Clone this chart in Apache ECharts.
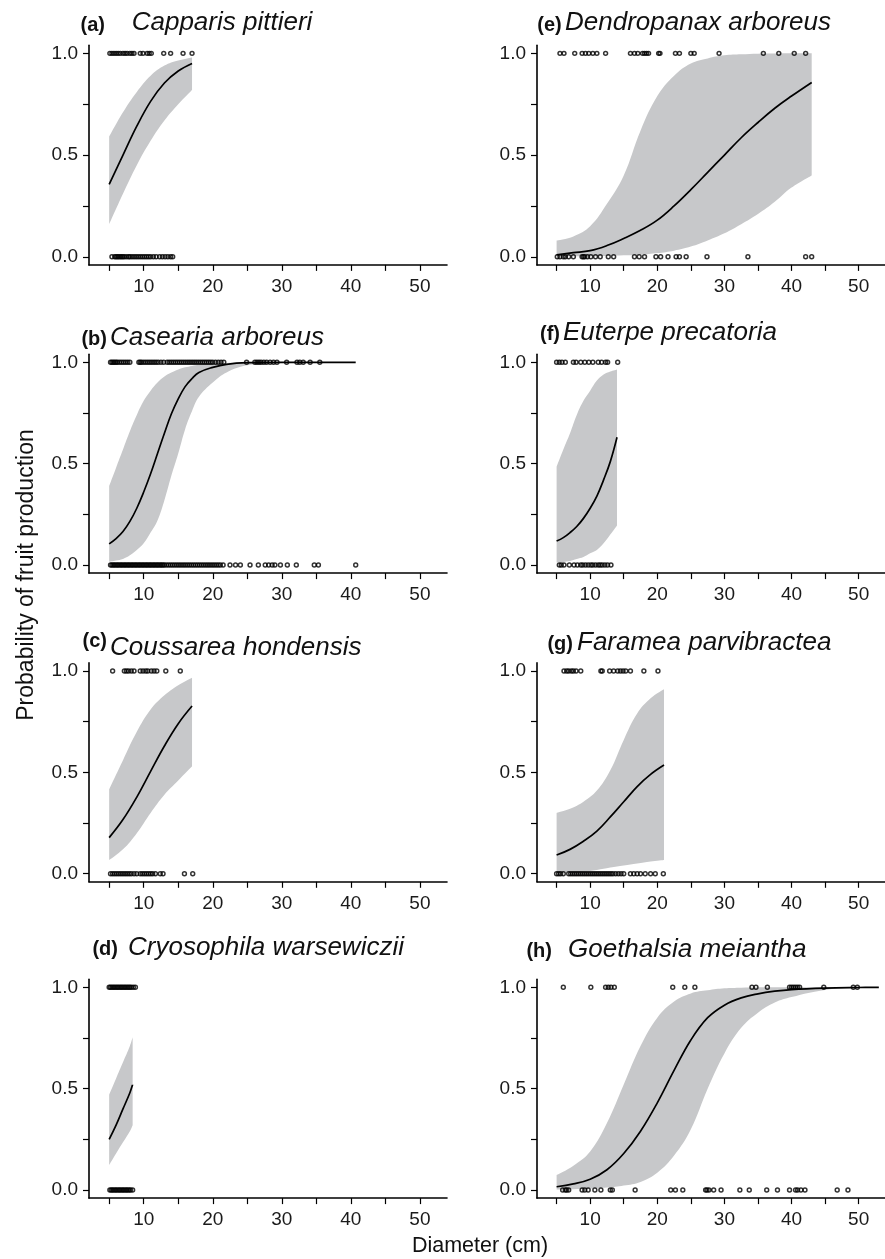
<!DOCTYPE html>
<html><head><meta charset="utf-8">
<script src="https://cdn.jsdelivr.net/npm/echarts@6/dist/echarts.min.js"></script>
<style>html,body{margin:0;padding:0;background:#fff}#c{width:885px;height:1259px}</style>
</head><body><div id="c"></div>
<script>
// ---- tick values ----
const xTicks = [5, 10, 15, 20, 25, 30, 35, 40, 45, 50];
const xLabels = [10, 20, 30, 40, 50];
const yTicks = [0, 0.25, 0.5, 0.75, 1];
const yLabels = [0, 0.5, 1];

// ---- (a) Capparis pittieri ----
const aX   = [5, 7, 9, 11, 13, 15, 17];
const aFit = [0.356, 0.50, 0.642, 0.764, 0.854, 0.913, 0.95];
const aUp  = [0.59, 0.71, 0.81, 0.89, 0.94, 0.965, 0.98];
const aLo  = [0.16, 0.31, 0.45, 0.57, 0.67, 0.75, 0.82];
const aPts1 = [5.1, 5.4, 5.7, 6.0, 6.3, 6.6, 7.0, 7.3, 7.6, 8.0, 8.3, 8.6, 9.5, 9.9, 10.5, 10.8, 11.1, 12.9, 13.9, 15.7, 17.0];
const aPts0 = [5.4, 5.8, 6.0, 6.2, 6.4, 6.6, 6.8, 7.0, 7.2, 7.5, 7.8, 8.0, 8.3, 8.6, 8.9, 9.2, 9.5, 9.8, 10.1, 10.4, 10.7, 11.0, 11.4, 11.8, 12.3, 12.7, 13.1, 13.5, 13.9, 14.2];

// ---- (b) Casearia arboreus ----
const bX   = [5, 6, 7, 8, 9, 10, 11, 12, 13, 14, 15, 16, 17, 18, 20, 22, 25, 30, 35, 40.7];
const bFit = [0.104, 0.13, 0.165, 0.215, 0.28, 0.36, 0.45, 0.55, 0.65, 0.745, 0.82, 0.88, 0.92, 0.95, 0.975, 0.99, 0.998, 1, 1, 1];
const bUp  = [0.39, 0.48, 0.57, 0.66, 0.74, 0.81, 0.86, 0.90, 0.93, 0.95, 0.965, 0.975, 0.982, 0.988, 0.994, 0.997, 1, 1, 1, 1];
const bLo  = [0.016, 0.022, 0.03, 0.048, 0.074, 0.107, 0.16, 0.22, 0.32, 0.44, 0.55, 0.67, 0.76, 0.83, 0.90, 0.95, 0.985, 0.998, 1, 1];
const bPts1 = [5.2, 5.4, 5.6, 5.8, 6.0, 6.2, 6.5, 6.8, 7.1, 7.4, 7.7, 8.0, 9.3, 9.5, 9.7, 10.0, 10.3, 10.6, 10.9, 11.2, 11.5, 11.8, 12.1, 12.5, 12.9,
  13.4, 13.7, 14.0, 14.3, 14.6, 14.9, 15.2, 15.5, 15.8, 16.1, 16.4, 16.7, 17.0, 17.3, 17.6, 17.9, 18.2, 18.5, 18.8, 19.1, 19.4, 19.7, 20.0, 20.4, 20.8, 21.2, 21.6,
  24.9, 26.1, 26.4, 26.7, 27.0, 27.4, 27.8, 28.3, 28.8, 29.3, 30.7, 32.2, 32.6, 33.1, 34.1, 35.5];
const bPts0 = [5.2, 5.4, 5.6, 5.8, 6.0, 6.2, 6.4, 6.6, 6.8, 7.0, 7.2, 7.4, 7.6, 7.8, 8.0, 8.2, 8.4, 8.6, 8.8, 9.0, 9.2, 9.4, 9.6, 9.8, 10.0,
  10.2, 10.4, 10.6, 10.8, 11.0, 11.2, 11.4, 11.6, 11.8, 12.0, 12.2, 12.4, 12.6, 12.8, 13.0, 13.3, 13.6, 13.9, 14.2, 14.5, 14.8, 15.1, 15.4, 15.7,
  16.0, 16.3, 16.6, 16.9, 17.2, 17.5, 17.8, 18.1, 18.4, 18.7, 19.0, 19.3, 19.6, 19.9, 20.2, 20.5, 20.8, 21.1, 21.5,
  22.5, 23.3, 24.0, 25.4, 26.6, 27.6, 28.1, 28.6, 29.0, 29.8, 30.8, 32.1, 34.7, 35.3, 40.7];

// ---- (c) Coussarea hondensis ----
const cX   = [5, 7, 9, 11, 13, 15, 17];
const cFit = [0.178, 0.267, 0.378, 0.505, 0.63, 0.74, 0.827];
const cUp  = [0.416, 0.56, 0.70, 0.81, 0.88, 0.93, 0.967];
const cLo  = [0.067, 0.12, 0.20, 0.30, 0.39, 0.46, 0.53];
const cPts1 = [5.5, 7.2, 7.5, 7.8, 8.2, 8.6, 9.5, 9.9, 10.3, 10.6, 11.1, 11.5, 11.9, 13.2, 15.3];
const cPts0 = [5.2, 5.5, 5.8, 6.1, 6.4, 6.7, 7.0, 7.3, 7.6, 7.9, 8.2, 8.6, 9.0, 9.5, 9.8, 10.1, 10.4, 10.7, 11.0, 11.3, 11.7, 12.4, 12.8, 15.9, 17.1];

// ---- (d) Cryosophila warsewiczii ----
const dX   = [5, 6, 7, 8, 8.4];
const dFit = [0.25, 0.32, 0.40, 0.48, 0.52];
const dUp  = [0.47, 0.55, 0.63, 0.71, 0.753];
const dLo  = [0.123, 0.18, 0.235, 0.29, 0.32];
const dPts1 = [5.0, 5.2, 5.4, 5.6, 5.8, 6.0, 6.2, 6.4, 6.6, 6.8, 7.0, 7.2, 7.4, 7.6, 7.8, 8.0, 8.2, 8.5, 8.8];
const dPts0 = [5.1, 5.3, 5.5, 5.7, 5.9, 6.1, 6.3, 6.5, 6.7, 6.9, 7.1, 7.3, 7.5, 7.7, 7.9, 8.1, 8.4];

// ---- (e) Dendropanax arboreus ----
const eX   = [5, 7.5, 10, 12.5, 15, 17.5, 20, 22.5, 25, 27.5, 30, 32.5, 35, 37.5, 40, 43];
const eFit = [0.01, 0.02, 0.03, 0.055, 0.09, 0.13, 0.18, 0.25, 0.33, 0.415, 0.50, 0.585, 0.66, 0.73, 0.79, 0.857];
const eUp  = [0.08, 0.10, 0.15, 0.26, 0.40, 0.62, 0.79, 0.89, 0.95, 0.975, 0.99, 0.995, 0.998, 0.999, 1, 1];
const eLo  = [0.002, 0.002, 0.003, 0.004, 0.007, 0.01, 0.018, 0.03, 0.05, 0.08, 0.115, 0.16, 0.21, 0.27, 0.34, 0.40];
const ePts1 = [5.5, 6.1, 7.7, 8.8, 9.3, 9.8, 10.4, 11.0, 12.3, 16.0, 16.6, 17.1, 17.8, 18.1, 18.4, 18.7, 20.2, 20.4, 22.7, 23.3, 25.0, 25.5, 29.2, 35.8, 38.1, 40.4, 42.1];
const ePts0 = [5.1, 5.5, 6.0, 6.3, 6.8, 7.5, 8.8, 9.0, 9.2, 9.6, 10.1, 10.8, 11.5, 12.7, 13.5, 16.6, 17.3, 18.1, 19.8, 20.5, 21.6, 22.8, 23.3, 24.3, 27.4, 33.5, 42.1, 43.0];

// ---- (f) Euterpe precatoria ----
const fX   = [5, 6, 7, 8, 9, 10, 11, 12, 13, 14];
const fFit = [0.118, 0.135, 0.16, 0.19, 0.23, 0.28, 0.34, 0.42, 0.51, 0.63];
const fUp  = [0.485, 0.57, 0.65, 0.74, 0.81, 0.86, 0.91, 0.94, 0.955, 0.965];
const fLo  = [0.012, 0.015, 0.02, 0.03, 0.04, 0.058, 0.074, 0.107, 0.15, 0.195];
const fPts1 = [5.0, 5.4, 5.8, 6.3, 7.5, 7.9, 8.6, 9.2, 9.8, 10.4, 11.2, 11.7, 12.3, 12.6, 14.1];
const fPts0 = [5.4, 5.7, 6.1, 6.9, 7.6, 8.1, 8.6, 8.9, 9.3, 9.7, 10.1, 10.4, 10.8, 11.2, 11.5, 11.8, 12.2, 12.6, 13.1];

// ---- (g) Faramea parvibractea ----
const gX   = [5, 7, 9, 11, 13, 15, 17, 19, 21];
const gFit = [0.092, 0.12, 0.16, 0.21, 0.28, 0.355, 0.43, 0.49, 0.536];
const gUp  = [0.30, 0.32, 0.355, 0.41, 0.51, 0.66, 0.79, 0.865, 0.91];
const gLo  = [0.005, 0.007, 0.01, 0.018, 0.03, 0.04, 0.05, 0.06, 0.067];
const gPts1 = [6.1, 6.5, 6.8, 7.2, 7.5, 7.9, 8.6, 11.6, 11.8, 12.9, 13.5, 14.1, 14.5, 14.9, 15.3, 16.0, 18.0, 20.1];
const gPts0 = [5.0, 5.3, 5.6, 6.0, 6.8, 7.1, 7.4, 7.7, 8.0, 8.3, 8.6, 8.9, 9.2, 9.5, 9.8, 10.1, 10.4, 10.7, 11.0, 11.3, 11.6, 11.9,
  12.2, 12.5, 12.8, 13.1, 13.4, 13.8, 14.2, 14.6, 15.0, 16.0, 16.5, 17.0, 17.5, 18.2, 19.0, 19.7, 20.9];

// ---- (h) Goethalsia meiantha ----
const hX   = [5, 7.5, 10, 12.5, 15, 17.5, 20, 22.5, 25, 27.5, 30, 32.5, 35, 37.5, 40, 45, 50, 53];
const hFit = [0.016, 0.03, 0.053, 0.10, 0.18, 0.29, 0.43, 0.59, 0.74, 0.85, 0.912, 0.948, 0.968, 0.981, 0.989, 0.996, 0.999, 1];
const hUp  = [0.074, 0.12, 0.19, 0.33, 0.52, 0.71, 0.85, 0.93, 0.97, 0.985, 0.995, 0.998, 1, 1, 1, 1, 1, 1];
const hLo  = [0.002, 0.004, 0.007, 0.012, 0.022, 0.04, 0.085, 0.17, 0.30, 0.50, 0.674, 0.80, 0.875, 0.925, 0.952, 0.987, 0.996, 0.998];
const hPts1 = [6.0, 10.1, 12.3, 12.7, 13.1, 13.6, 22.3, 24.1, 25.6, 34.1, 34.7, 36.4, 39.7, 40.0, 40.3, 40.6, 40.9, 41.2, 44.8, 49.2, 49.8];
const hPts0 = [5.9, 6.3, 6.5, 6.8, 8.8, 9.2, 9.7, 10.7, 11.6, 13.0, 13.3, 16.7, 22.0, 22.7, 23.8, 27.2, 27.4, 27.7, 28.4, 29.5, 32.3, 33.7,
  36.3, 37.9, 39.7, 40.6, 40.9, 41.4, 42.0, 46.8, 48.4];

const labels  = ['(a)', '(b)', '(c)', '(d)', '(e)', '(f)', '(g)', '(h)'];
const species = ['Capparis pittieri', 'Casearia arboreus', 'Coussarea hondensis', 'Cryosophila warsewiczii',
                 'Dendropanax arboreus', 'Euterpe precatoria', 'Faramea parvibractea', 'Goethalsia meiantha'];
const xTitle = 'Diameter (cm)';
const yTitle = 'Probability of fruit production';

// ---- layout (positions only) ----
const colLeft = [89, 537];
const rowTop = [45.2, 354.2, 662.9, 979.2];
const rowH = [219.7, 218.9, 218.9, 218.9];
const titlePos = [
  {lr: 105, sx: 131.7, by: 31.5, lby: 31.5},
  {lr: 107, sx: 110, by: 346, lby: 346},
  {lr: 107, sx: 110, by: 656, lby: 648},
  {lr: 118, sx: 128, by: 956, lby: 956},
  {lr: 561.7, sx: 565, by: 31.5, lby: 31.5},
  {lr: 560, sx: 563, by: 341, lby: 341},
  {lr: 573, sx: 577, by: 651, lby: 651},
  {lr: 552, sx: 568, by: 958, lby: 958}
];

const panels = [
  [aX, aFit, aUp, aLo, aPts1, aPts0],
  [bX, bFit, bUp, bLo, bPts1, bPts0],
  [cX, cFit, cUp, cLo, cPts1, cPts0],
  [dX, dFit, dUp, dLo, dPts1, dPts0],
  [eX, eFit, eUp, eLo, ePts1, ePts0],
  [fX, fFit, fUp, fLo, fPts1, fPts0],
  [gX, gFit, gUp, gLo, gPts1, gPts0],
  [hX, hFit, hUp, hLo, hPts1, hPts0]
];

const FONT = '"Liberation Sans", Arial, Helvetica, sans-serif';
const BAND = '#c7c8ca';
const grids = [], xAxes = [], yAxes = [], series = [], graphics = [];

panels.forEach((p, i) => {
  const [X, FIT, UP, LO, P1, P0] = p;
  const col = i < 4 ? 0 : 1, row = i % 4;
  grids.push({left: colLeft[col], top: rowTop[row], width: 358, height: rowH[row]});
  xAxes.push({
    type: 'value', gridIndex: i, min: 2.08, max: 53.92, z: 10,
    axisLine: {show: true, onZero: false, lineStyle: {color: '#000', width: 1.6}},
    axisTick: {show: true, customValues: xTicks, length: 6, inside: false, lineStyle: {color: '#000', width: 1.2}},
    axisLabel: {show: true, customValues: xLabels, margin: 12, fontSize: 19, fontFamily: FONT, color: '#1a1a1a'},
    splitLine: {show: false}
  });
  yAxes.push({
    type: 'value', gridIndex: i, min: -0.04, max: 1.04, z: 10,
    axisLine: {show: true, onZero: false, lineStyle: {color: '#000', width: 1.6}},
    axisTick: {show: true, customValues: yTicks, length: 6, inside: false, lineStyle: {color: '#000', width: 1.2}},
    axisLabel: {show: true, customValues: yLabels, margin: 11, fontSize: 19, fontFamily: FONT, color: '#1a1a1a',
      formatter: v => Number(v).toFixed(1)},
    splitLine: {show: false}
  });
  const common = {xAxisIndex: i, yAxisIndex: i, silent: true, animation: false};
  // confidence band: lower limit + (upper - lower) stacked on the probability dimension
  const bandDims = ['prob', 'diam'];
  const bandEnc = {x: 'diam', y: 'prob'};
  series.push(Object.assign({type: 'line', dimensions: bandDims, encode: bandEnc,
    data: X.map((x, k) => [LO[k], x]), stack: 'band' + i,
    symbol: 'none', smooth: 0.4, lineStyle: {width: 0, opacity: 0}, z: 1}, common));
  series.push(Object.assign({type: 'line', dimensions: bandDims, encode: bandEnc,
    data: X.map((x, k) => [UP[k] - LO[k], x]), stack: 'band' + i,
    symbol: 'none', smooth: 0.4, lineStyle: {width: 0, opacity: 0},
    areaStyle: {color: BAND, opacity: 1}, z: 1}, common));
  // fitted curve
  series.push(Object.assign({type: 'line', data: X.map((x, k) => [x, FIT[k]]),
    symbol: 'none', smooth: 0.4, lineStyle: {color: '#000', width: 1.7}, z: 3}, common));
  const sym = {type: 'scatter', symbol: 'circle', symbolSize: 3.9,
    itemStyle: {color: 'rgba(0,0,0,0)', borderColor: '#000', borderWidth: 1.5}, z: 4};
  series.push(Object.assign({data: P1.map(x => [x, 1])}, sym, common));
  series.push(Object.assign({data: P0.map(x => [x, 0])}, sym, common));

  const t = titlePos[i];
  graphics.push({type: 'text', x: t.lr, y: t.lby - 0.32 * 20, silent: true,
    style: {text: labels[i], font: 'bold 20px ' + FONT, fill: '#111', align: 'right', verticalAlign: 'middle'}});
  graphics.push({type: 'text', x: t.sx, y: t.by - 0.32 * 26, silent: true,
    style: {text: species[i], font: 'italic 26px ' + FONT, fill: '#111', align: 'left', verticalAlign: 'middle'}});
});

graphics.push({type: 'text', x: 27, y: 575, rotation: Math.PI / 2, silent: true,
  style: {text: yTitle, font: '23px ' + FONT, fill: '#111', align: 'center', verticalAlign: 'middle'}});
graphics.push({type: 'text', x: 480, y: 1253 - 0.32 * 21.5, silent: true,
  style: {text: xTitle, font: '21.5px ' + FONT, fill: '#111', align: 'center', verticalAlign: 'middle'}});

const chart = echarts.init(document.getElementById('c'), null, {renderer: 'canvas'});
chart.setOption({
  animation: false,
  backgroundColor: '#fff',
  grid: grids, xAxis: xAxes, yAxis: yAxes, series: series,
  graphic: {elements: graphics}
});
</script></body></html>
